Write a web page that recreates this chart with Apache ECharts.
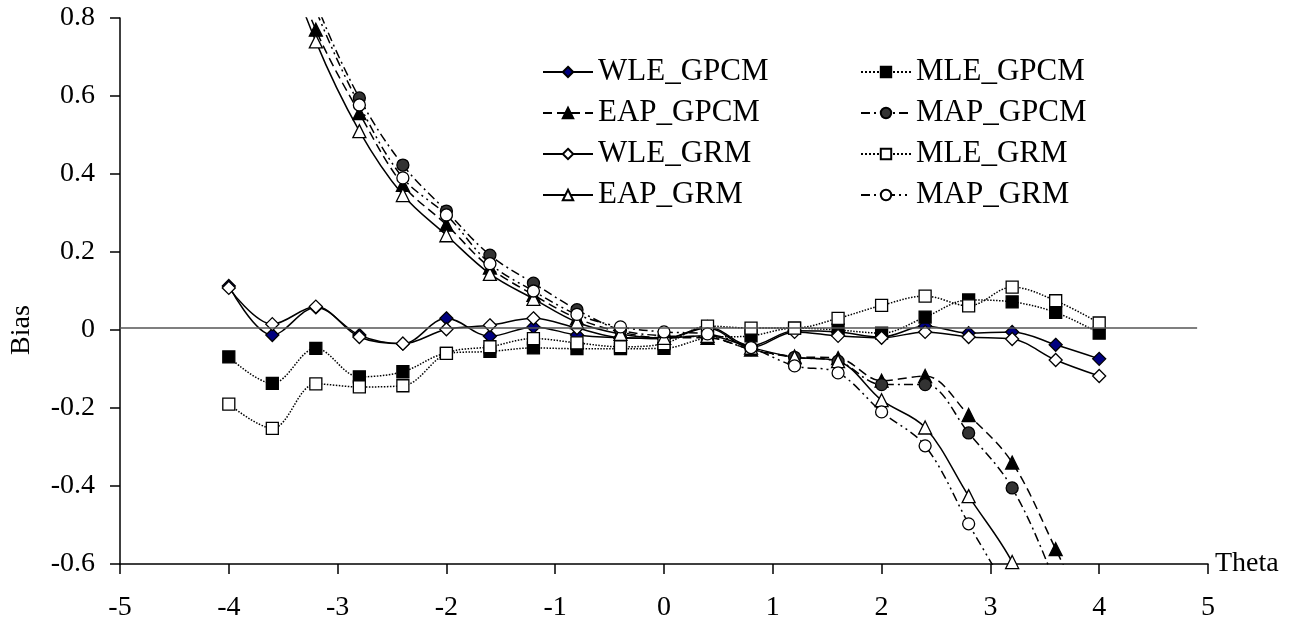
<!DOCTYPE html>
<html>
<head>
<meta charset="utf-8">
<script src="https://cdn.jsdelivr.net/npm/echarts@6/dist/echarts.min.js"></script>
<style>
  html, body { margin: 0; padding: 0; background: #fff; }
  #chart { width: 1299px; height: 635px; }
</style>
</head>
<body>
<div id="chart"></div>
<script>
// theta points where bias was evaluated
const thetaValues = [-4, -3.6, -3.2, -2.8, -2.4, -2, -1.6, -1.2, -0.8, -0.4, 0, 0.4, 0.8, 1.2, 1.6, 2, 2.4, 2.8, 3.2, 3.6, 4];

const wleGpcm = [0.113, -0.013, 0.058, -0.013, -0.035, 0.030, -0.016, 0.008, -0.013, -0.020, -0.022, 0.008, -0.040, -0.002, -0.005, -0.018, 0.010, -0.008, -0.005, -0.038, -0.074];
const mleGpcm = [-0.069, -0.137, -0.047, -0.120, -0.107, -0.060, -0.055, -0.046, -0.048, -0.048, -0.047, -0.020, -0.015, 0.005, 0.000, -0.008, 0.033, 0.077, 0.072, 0.045, -0.008];
const eapGpcm = [1.48, 1.07, 0.770, 0.556, 0.372, 0.270, 0.160, 0.090, 0.030, -0.005, -0.020, -0.020, -0.050, -0.068, -0.072, -0.130, -0.118, -0.218, -0.340, -0.562, -0.800];
const mapGpcm = [1.60, 1.16, 0.840, 0.595, 0.423, 0.305, 0.192, 0.120, 0.052, 0.000, -0.015, -0.018, -0.050, -0.070, -0.080, -0.140, -0.140, -0.264, -0.405, -0.650, -0.950];
const wleGrm = [0.108, 0.015, 0.060, -0.018, -0.035, 0.002, 0.012, 0.030, 0.005, -0.020, -0.022, 0.005, -0.045, -0.005, -0.015, -0.020, -0.005, -0.018, -0.023, -0.077, -0.118];
const mleGrm = [-0.190, -0.252, -0.138, -0.146, -0.143, -0.060, -0.043, -0.022, -0.033, -0.043, -0.035, 0.010, 0.005, 0.005, 0.030, 0.063, 0.087, 0.062, 0.110, 0.075, 0.018];
const eapGrm = [1.45, 1.05, 0.740, 0.510, 0.346, 0.243, 0.144, 0.080, 0.020, -0.010, -0.020, -0.015, -0.045, -0.070, -0.080, -0.180, -0.250, -0.426, -0.595, -0.850, -1.150];
const mapGrm = [1.55, 1.12, 0.820, 0.577, 0.390, 0.295, 0.170, 0.100, 0.040, 0.008, -0.005, -0.010, -0.045, -0.092, -0.110, -0.210, -0.297, -0.497, -0.700, -1.000, -1.350];

const leftNames = ["WLE_GPCM", "EAP_GPCM", "WLE_GRM", "EAP_GRM"];
const rightNames = ["MLE_GPCM", "MAP_GPCM", "MLE_GRM", "MAP_GRM"];

const FONT = "Liberation Serif";

const pair = (ys) => thetaValues.map((x, i) => [x, ys[i]]);

const makeSeries = (name, ys, symbol, fill, dash, size) => ({
  name: name,
  type: "line",
  data: pair(ys),
  smooth: 0.35,
  symbol: symbol,
  symbolSize: size,
  clip: true,
  lineStyle: { color: "#000", width: 1.5, type: dash },
  itemStyle: { color: fill, borderColor: "#000", borderWidth: 1.3 },
  emphasis: { disabled: true },
  z: 3,
});

const chart = echarts.init(document.getElementById("chart"));

const legendBase = {
  orient: "vertical",
  itemWidth: 50,
  itemHeight: 13,
  itemGap: 9,
  textStyle: { fontFamily: FONT, fontSize: 31, color: "#000", lineHeight: 32 },
};

chart.setOption({
  animation: false,
  backgroundColor: "#fff",
  grid: { left: 120, right: 91, top: 18, bottom: 71 },
  legend: [
    Object.assign({}, legendBase, { data: leftNames, left: 537, top: 51 }),
    Object.assign({}, legendBase, { data: rightNames, left: 855, top: 51 }),
  ],
  graphic: [
    {
      type: "text",
      x: 22,
      y: 330,
      rotation: Math.PI / 2,
      style: {
        text: "Bias",
        fontFamily: FONT,
        fontSize: 28,
        fill: "#000",
        align: "center",
        verticalAlign: "middle",
      },
    },
  ],
  xAxis: {
    type: "value",
    min: -5,
    max: 5,
    interval: 1,
    name: "Theta",
    nameLocation: "end",
    nameGap: 7,
    nameTextStyle: { fontFamily: FONT, fontSize: 28, color: "#000" },
    axisLine: { onZero: false, lineStyle: { color: "#000", width: 1.5 } },
    axisTick: { inside: false, length: 10, lineStyle: { color: "#000", width: 1.5 } },
    axisLabel: { fontFamily: FONT, fontSize: 28, color: "#000", margin: 30 },
    splitLine: { show: false },
  },
  yAxis: {
    type: "value",
    min: -0.6,
    max: 0.8,
    interval: 0.2,
    axisLine: { show: true, onZero: false, lineStyle: { color: "#000", width: 1.5 } },
    axisTick: { show: true, length: 10, lineStyle: { color: "#000", width: 1.5 } },
    axisLabel: { fontFamily: FONT, fontSize: 28, color: "#000", margin: 25 },
    splitLine: { show: false },
  },
  series: [
    Object.assign(makeSeries("WLE_GPCM", wleGpcm, "diamond", "#000080", "solid", 13), {
      markLine: {
        silent: true,
        symbol: "none",
        label: { show: false },
        lineStyle: { color: "#555", width: 1.5, type: "solid" },
        data: [[{ coord: [-5, 0.005] }, { coord: [4.9, 0.005] }]],
      },
    }),
    makeSeries("MLE_GPCM", mleGpcm, "rect", "#000", "dotted", 12),
    makeSeries("EAP_GPCM", eapGpcm, "triangle", "#000", [9, 5], 13),
    makeSeries("MAP_GPCM", mapGpcm, "circle", "#333", [9, 4, 2, 4], 12),
    makeSeries("WLE_GRM", wleGrm, "diamond", "#fff", "solid", 13),
    makeSeries("MLE_GRM", mleGrm, "rect", "#fff", "dotted", 12),
    makeSeries("EAP_GRM", eapGrm, "triangle", "#fff", "solid", 13),
    makeSeries("MAP_GRM", mapGrm, "circle", "#fff", [9, 4, 2, 4, 2, 4], 12),
  ],
});
</script>
</body>
</html>
